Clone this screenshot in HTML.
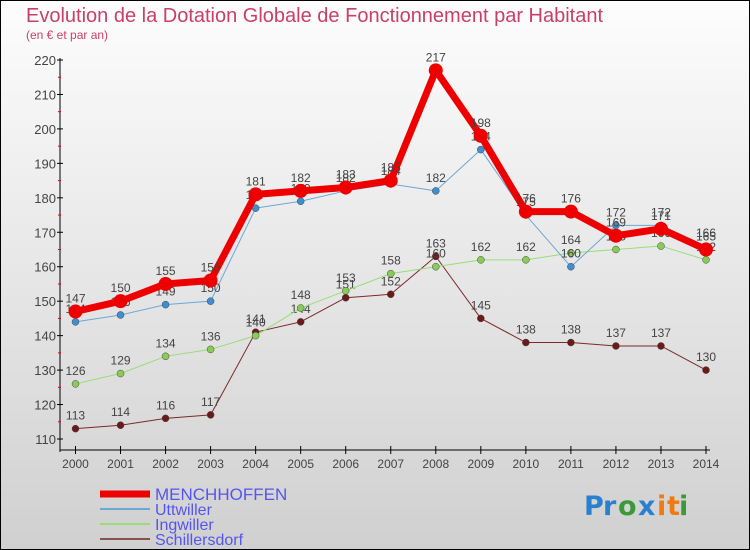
<!DOCTYPE html>
<html><head><meta charset="utf-8"><style>
body{margin:0}
#c{width:750px;height:550px;position:relative;overflow:hidden;font-family:"Liberation Sans",sans-serif}
</style></head><body>
<div id="c">
<svg id="s" width="750" height="550" xmlns="http://www.w3.org/2000/svg">
<defs><linearGradient id="bg" x1="0" y1="0" x2="0" y2="1"><stop offset="0" stop-color="#fdfdfd"/><stop offset="1" stop-color="#d0d0d0"/></linearGradient></defs>
<rect x="0.5" y="0.5" width="749" height="549" fill="url(#bg)" stroke="#000"/>
<text x="26" y="22" font-size="20" fill="#c8406a">Evolution de la Dotation Globale de Fonctionnement par Habitant</text>
<text x="26" y="39" font-size="12" fill="#c8406a">(en € et par an)</text>
<g id="axes"></g>
<g id="plot"></g>
<g id="legend"></g>
<g font-family="'DejaVu Sans',sans-serif" font-size="27" font-weight="bold">
<text x="584" y="515" fill="#2a7fd0">P</text><text x="603" y="515" fill="#2a7fd0">r</text><text x="618" y="515" fill="#3a9a3a">o</text><text x="638" y="515" fill="#2a7fd0">x</text><text x="657" y="515" fill="#f07a10">i</text><text x="667" y="515" fill="#f07a10">t</text><text x="679" y="515" fill="#3a9a3a">i</text>
</g>
</svg>
</div>
<script>
const years=[2000,2001,2002,2003,2004,2005,2006,2007,2008,2009,2010,2011,2012,2013,2014];
const yTicks=[110,120,130,140,150,160,170,180,190,200,210,220];
const menchhoffen=[147,150,155,156,181,182,183,185,217,198,176,176,169,171,165];
const uttwiller=[144,146,149,150,177,179,182,184,182,194,175,160,172,172,166];
const ingwiller=[126,129,134,136,140,148,153,158,160,162,162,164,165,166,162];
const schillersdorf=[113,114,116,117,141,144,151,152,163,145,138,138,137,137,130];
const NS="http://www.w3.org/2000/svg";
const X=i=>75.5+i*(630.5/14);
const Y=v=>60+(220-v)*(379/110);
function mk(tag,at,parent){const e=document.createElementNS(NS,tag);for(const k in at)e.setAttribute(k,at[k]);parent.appendChild(e);return e;}
const ax=document.getElementById('axes');
let l=mk('line',{x1:60,y1:58,x2:60,y2:452,stroke:'#000','stroke-width':1},ax);


l=mk('line',{x1:60,y1:450,x2:710,y2:450,stroke:'#000','stroke-width':1},ax);


yTicks.forEach(v=>{const y=Y(v);
 mk('line',{x1:57,y1:y,x2:63,y2:y,stroke:'#000'},ax);
 if(v<220){mk('line',{x1:58,y1:Y(v+5),x2:61,y2:Y(v+5),stroke:'#e00'},ax);}
 const t=mk('text',{x:56,y:y+5,'text-anchor':'end','font-size':13,fill:'#444'},ax);t.textContent=v;
 
 
});
years.forEach((yr,i)=>{const x=X(i);
 mk('line',{x1:x,y1:446,x2:x,y2:454,stroke:'#000'},ax);
 const t=mk('text',{x:x,y:468,'text-anchor':'middle','font-size':12,fill:'#444'},ax);t.textContent=yr;
 
 
});
const series=[
 {name:'Schillersdorf',d:schillersdorf,c:'#6b1a1a',lc:'#7a2a2a',w:1,r:3.5},
 {name:'Ingwiller',d:ingwiller,c:'#88cc55',lc:'#99dd77',w:1,r:3.5},
 {name:'Uttwiller',d:uttwiller,c:'#3f8fd0',lc:'#6aa8d8',w:1,r:3.5},
 {name:'MENCHHOFFEN',d:menchhoffen,c:'#ee0000',lc:'#ee0000',w:7,r:7}
];
const pl=document.getElementById('plot');
series.forEach(s=>{
 const g=mk('g',{},pl);
 
 
 const p=mk('polyline',{points:s.d.map((v,i)=>X(i)+','+Y(v)).join(' '),fill:'none',stroke:s.lc,'stroke-width':s.w,'stroke-linejoin':'round'},g);
 
 
 s.d.forEach((v,i)=>{
  const c=mk('circle',{cx:X(i),cy:Y(v),r:s.r,fill:s.c,stroke:s.w>1?'none':'#444','stroke-width':0.5},g);
  
  
  const t=mk('text',{x:X(i),y:Y(v)-9,'text-anchor':'middle','font-size':12,fill:'#444'},g);t.textContent=v;
  
  
 });
});
const lg=document.getElementById('legend');
[['MENCHHOFFEN','#ee0000',7,'17'],['Uttwiller','#6aa8d8',2,'16'],['Ingwiller','#99dd77',2,'16'],['Schillersdorf','#8a5050',2,'16']].forEach((e,i)=>{
 const y=[494,509,524,539][i];
 const g=mk('g',{},lg);
 
 
 mk('line',{x1:100,y1:y,x2:150,y2:y,stroke:e[1],'stroke-width':e[2]},g);
 const t=mk('text',{x:155,y:y+6,'font-size':e[3],fill:'#5555ee'},g);t.textContent=e[0];
});
</script>
</body></html>
